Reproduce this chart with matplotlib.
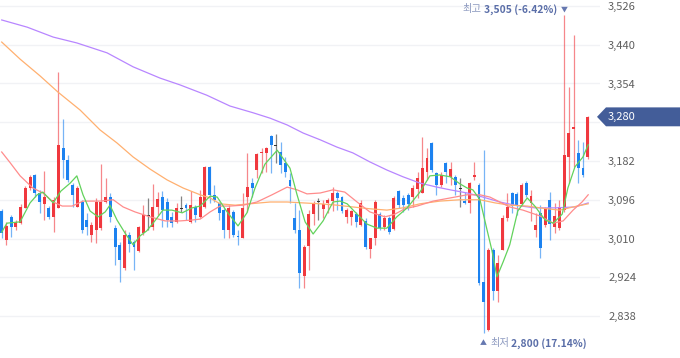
import numpy as np
import matplotlib
matplotlib.use("Agg")
import matplotlib.pyplot as plt
from matplotlib.patches import Polygon
from matplotlib.transforms import blended_transform_factory
from matplotlib.offsetbox import TextArea, HPacker, AnnotationBbox

FONT = ["Noto Sans CJK KR", "DejaVu Sans"]
plt.rcParams["font.family"] = FONT

# daily candles, oldest first
opens = [3071, 3007, 3058, 3036, 3044, 3078, 3122, 3151, 3111, 3087,
         3078, 3058, 3078, 3211, 3184, 3129, 3080, 3091, 3051, 3018,
         3029, 3033, 3091, 3102, 3033, 2996, 2945, 3018, 3002, 2982,
         3022, 3060, 3036, 3080, 3102, 3091, 3058, 3047, 3076, 3084,
         3047, 3080, 3058, 3080, 3169, 3107, 3089, 3073, 3029, 3069,
         3016, 3011, 3102, 3133, 3162, 3200, 3200, 3238, 3215, 3202,
         3178, 3140, 3056, 3029, 2927, 2993, 3064, 3091, 3076, 3089,
         3093, 3111, 3102, 3058, 3058, 3064, 3040, 3049, 2987, 3011,
         3064, 3036, 3056, 3031, 3115, 3100, 3107, 3102, 3120, 3111,
         3158, 3222, 3155, 3129, 3178, 3147, 3147, 3120, 3093, 3089,
         3147, 3129, 2914, 2807, 2985, 2894, 2985, 3056, 3111, 3109,
         3087, 3133, 3089, 3029, 3067, 3040, 3096, 3036, 3033, 3073,
         3191, 3253, 3200, 3166, 3191]
highs = [3076, 3047, 3062, 3051, 3087, 3127, 3151, 3153, 3118, 3160,
         3082, 3102, 3380, 3275, 3195, 3133, 3127, 3096, 3067, 3047,
         3100, 3175, 3144, 3111, 3040, 3002, 3029, 3024, 3007, 3038,
         3084, 3100, 3131, 3113, 3115, 3100, 3069, 3089, 3104, 3089,
         3115, 3084, 3118, 3171, 3171, 3129, 3091, 3078, 3084, 3073,
         3029, 3111, 3200, 3144, 3200, 3211, 3213, 3240, 3242, 3224,
         3191, 3155, 3089, 3073, 2996, 3073, 3093, 3100, 3096, 3100,
         3124, 3115, 3104, 3078, 3073, 3069, 3096, 3056, 3011, 3096,
         3069, 3062, 3060, 3104, 3118, 3107, 3111, 3129, 3158, 3235,
         3211, 3224, 3158, 3158, 3180, 3180, 3151, 3144, 3113, 3135,
         3180, 3133, 3206, 2989, 2989, 2974, 3062, 3111, 3113, 3113,
         3133, 3138, 3118, 3067, 3084, 3080, 3113, 3089, 3096, 3505,
         3346, 3462, 3229, 3224, 3282]
lows = [3011, 2996, 3013, 3029, 3042, 3078, 3118, 3102, 3067, 3051,
        3053, 3024, 3078, 3144, 3135, 3080, 3080, 3022, 3018, 3002,
        3000, 3029, 3089, 3047, 2951, 2914, 2940, 2980, 2940, 2980,
        3018, 3029, 3029, 3062, 3036, 3036, 3036, 3044, 3069, 3051,
        3044, 3047, 3056, 3078, 3089, 3091, 3051, 3011, 3011, 3013,
        2996, 3011, 3069, 3102, 3144, 3155, 3158, 3155, 3178, 3155,
        3147, 3089, 3022, 2900, 2900, 2940, 3040, 3051, 3056, 3067,
        3071, 3073, 3067, 3044, 3040, 3036, 3038, 2987, 2967, 2996,
        3029, 3029, 3020, 3029, 3078, 3069, 3073, 3080, 3100, 3111,
        3140, 3158, 3107, 3124, 3133, 3129, 3107, 3080, 3087, 3067,
        3140, 2907, 2800, 2805, 2874, 2869, 2985, 3049, 3067, 3062,
        3082, 3102, 3049, 3013, 2967, 3036, 3007, 3022, 3029, 3069,
        3133, 3169, 3133, 3147, 3186]
closes = [3022, 3038, 3036, 3047, 3080, 3122, 3147, 3111, 3091, 3102,
          3058, 3096, 3218, 3184, 3140, 3107, 3122, 3029, 3036, 3040,
          3091, 3091, 3102, 3058, 2991, 2962, 3018, 2998, 2991, 3036,
          3062, 3060, 3080, 3098, 3073, 3051, 3044, 3078, 3076, 3078,
          3084, 3062, 3102, 3169, 3107, 3096, 3067, 3029, 3078, 3018,
          3013, 3078, 3124, 3122, 3198, 3202, 3211, 3218, 3215, 3173,
          3158, 3127, 3029, 2934, 2991, 3064, 3089, 3091, 3087, 3096,
          3111, 3100, 3071, 3073, 3071, 3047, 3089, 2991, 3011, 3091,
          3033, 3056, 3024, 3100, 3084, 3084, 3087, 3122, 3144, 3166,
          3189, 3162, 3129, 3151, 3158, 3164, 3129, 3120, 3089, 3133,
          3151, 2911, 2869, 2985, 2894, 2956, 3056, 3080, 3082, 3084,
          3129, 3107, 3104, 3040, 2989, 3076, 3042, 3060, 3080, 3195,
          3244, 3257, 3166, 3151, 3280]

# moving averages (candle index, price)
ma5_idx = [0, 1.1, 3.9, 6.0, 7.5, 8.7, 10.9, 12.5, 14.5, 15.9, 17.2, 18.7,
           20.4, 21.9, 22.9, 24.4, 26.1, 27.8, 29.3, 30.7, 32.4, 34.1, 36.0,
           38.2, 40.3, 42.0, 44.1, 45.6, 47.7, 50.0, 51.9, 53.6, 55.7, 58.3,
           61.0, 62.5, 64.2, 65.9, 68.0, 70.1, 71.6, 73.1, 75.2, 77.3, 79.4,
           81.5, 83.6, 85.8, 88.5, 90.6, 92.7, 94.9, 97.0, 98.5, 99.7, 101.2,
           102.7, 103.7, 104.8, 106.1, 107.5, 109.2, 111.2, 112.8, 115.0,
           116.7, 118.6, 119.8, 121.3, 123.0, 124.1]
ma5_val = [3024, 3044, 3047, 3089, 3107, 3113, 3089, 3115, 3133, 3149, 3107,
           3071, 3058, 3069, 3084, 3051, 3022, 2996, 3016, 3027, 3049, 3073,
           3073, 3067, 3078, 3082, 3104, 3102, 3069, 3038, 3067, 3122, 3175,
           3206, 3166, 3107, 3047, 3020, 3049, 3091, 3093, 3087, 3064, 3042,
           3033, 3033, 3058, 3078, 3113, 3149, 3151, 3147, 3131, 3122, 3118,
           3096, 3029, 2985, 2925, 2958, 2996, 3071, 3100, 3082, 3051, 3044,
           3064, 3122, 3169, 3191, 3218]
ma20_idx = [0, 1.8, 3.9, 6.6, 8.7, 10.9, 12.8, 14.9, 17.2, 20.8, 23.6, 25.7,
            28.2, 31.4, 34.6, 37.7, 40.3, 42.0, 44.1, 46.2, 48.3, 51.1, 54.0,
            57.2, 60.4, 62.5, 64.6, 67.4, 70.1, 72.6, 75.2, 77.9, 81.1, 83.2,
            85.3, 87.9, 91.3, 94.9, 98.5, 101.2, 103.3, 105.4, 107.5, 110.3,
            113.9, 116.7, 118.8, 120.9, 122.8, 124.1]
ma20_val = [3202, 3178, 3149, 3122, 3111, 3091, 3082, 3082, 3093, 3093, 3096,
            3080, 3069, 3058, 3049, 3049, 3051, 3053, 3069, 3082, 3082, 3084,
            3091, 3107, 3124, 3118, 3109, 3111, 3118, 3113, 3091, 3069, 3058,
            3064, 3076, 3082, 3093, 3100, 3107, 3107, 3102, 3091, 3080, 3073,
            3060, 3044, 3049, 3073, 3091, 3107]
ma60_idx = [0, 3.9, 8.1, 11.9, 16.6, 20.8, 24.4, 27.8, 31.4, 35.0, 38.4,
            42.0, 44.1, 46.2, 49.4, 52.5, 56.8, 60.4, 63.8, 67.4, 70.9, 74.3,
            77.9, 81.5, 84.9, 88.5, 92.7, 97.0, 101.2, 104.4, 107.5, 111.2,
            115.4, 118.1, 120.9, 124.1]
ma60_val = [3446, 3408, 3371, 3335, 3295, 3251, 3222, 3191, 3164, 3140, 3122,
            3107, 3100, 3087, 3084, 3087, 3091, 3091, 3089, 3087, 3084, 3080,
            3076, 3073, 3078, 3087, 3093, 3096, 3096, 3089, 3084, 3082, 3076,
            3073, 3080, 3087]
ma120_idx = [0, 5.4, 10.9, 15.9, 22.3, 27.8, 33.5, 37.7, 43.4, 48.3, 53.2,
             56.8, 60.4, 63.8, 67.4, 70.9, 74.3, 77.9, 81.5, 84.9, 88.5, 92.1,
             94.9, 98.5, 101.8, 105.4, 108.6, 112.8, 117.1, 121.3, 124.1]
ma120_val = [3495, 3479, 3457, 3444, 3422, 3391, 3366, 3351, 3328, 3304, 3289,
             3277, 3262, 3244, 3229, 3213, 3200, 3180, 3162, 3147, 3133, 3124,
             3118, 3111, 3102, 3091, 3084, 3078, 3078, 3080, 3089]

price_ticks = [2838, 2924, 3010, 3096, 3182, 3268, 3354, 3440, 3526]

UP = "#F0383E"
DOWN = "#1C82F0"
FLAT = "#333333"


def main():
    o = np.array(opens)
    h = np.array(highs)
    l = np.array(lows)
    c = np.array(closes)
    x = np.arange(len(o))
    last = c[-1]

    colors = np.where(c > o, UP, np.where(c < o, DOWN, FLAT))

    fig = plt.figure(figsize=(6.8, 3.58), dpi=100)
    fig.patch.set_facecolor("white")
    ax = fig.add_axes([0, 0, 600 / 680, 1])
    ax.set_facecolor("white")

    # wicks then bodies
    ax.vlines(x, l, h, colors=colors, linewidth=0.9, alpha=0.6, zorder=2)
    body_h = np.maximum(np.abs(c - o), 1.8)
    ax.bar(x, body_h, bottom=np.minimum(o, c), width=0.62, color=colors,
           linewidth=0, zorder=2.5)

    # moving averages
    ax.plot(ma120_idx, ma120_val, color="#B886FF", lw=0.9, zorder=3)
    ax.plot(ma60_idx, ma60_val, color="#FFB070", lw=0.9, zorder=3)
    ax.plot(ma20_idx, ma20_val, color="#FF8C8C", lw=0.9, zorder=3)
    ax.plot(ma5_idx, ma5_val, color="#62D25C", lw=0.9, zorder=3)

    ax.set_xlim(-0.36, 126.6)
    ax.set_ylim(2744.8, 3539.3)
    ax.set_yticks(price_ticks)
    # the label under the current-price tag is hidden, as on the source chart
    ax.set_yticklabels(["" if abs(v - last) < 40 else f"{v:,}" for v in price_ticks])
    ax.yaxis.tick_right()
    ax.tick_params(axis="y", length=0, pad=5.8, labelsize=8, labelcolor="#5f5f5f")
    ax.set_xticks([])
    ax.grid(axis="y", color="#f1f2f5", linewidth=1)
    ax.set_axisbelow(True)
    for s in ax.spines.values():
        s.set_visible(False)

    # high / low markers
    hi_i = int(np.argmax(h))
    lo_i = int(np.argmin(l))
    hi, lo = h[hi_i], l[lo_i]
    hi_pct = (last - hi) / hi * 100
    lo_pct = (last - lo) / lo * 100

    light = dict(color="#8d9ac0", fontsize=7.4, family=FONT)
    bold = dict(color="#5a6ea8", fontsize=7.4, fontweight="bold", family=FONT)

    ax.annotate("▼", xy=(hi_i, hi), xytext=(0, 4.5), textcoords="offset points",
                ha="center", va="center", fontsize=5, color="#6678b0",
                family=FONT, annotation_clip=False)
    top_box = HPacker(children=[TextArea("최고", textprops=light),
                                TextArea(f"{hi:,} ({hi_pct:.2f}%)", textprops=bold)],
                      align="center", pad=0, sep=1.5)
    ab = AnnotationBbox(top_box, (hi_i, hi), xybox=(-5, 4.5),
                        boxcoords="offset points", box_alignment=(1, 0.5),
                        frameon=False, pad=0, annotation_clip=False)
    ax.add_artist(ab)

    ax.annotate("▲", xy=(lo_i, lo), xytext=(0, -7.3), textcoords="offset points",
                ha="center", va="center", fontsize=5, color="#6678b0",
                family=FONT, annotation_clip=False)
    bot_box = HPacker(children=[TextArea("최저", textprops=light),
                                TextArea(f"{lo:,} ({lo_pct:.2f}%)", textprops=bold)],
                      align="center", pad=0, sep=1.5)
    ab = AnnotationBbox(bot_box, (lo_i, lo), xybox=(4.5, -7.3),
                        boxcoords="offset points", box_alignment=(0, 0.5),
                        frameon=False, pad=0, annotation_clip=False)
    ax.add_artist(ab)

    # current price tag on the right axis
    tr = blended_transform_factory(fig.transFigure, ax.transData)
    half = 21
    tag = Polygon([(597 / 680, last), (606 / 680, last + half), (1, last + half),
                   (1, last - half), (606 / 680, last - half)],
                  closed=True, transform=tr, facecolor="#435d99",
                  edgecolor="none", zorder=5, clip_on=False)
    fig.add_artist(tag)
    fig.text(608 / 680, last, f"{last:,}", transform=tr, ha="left", va="center",
             color="white", fontsize=8, zorder=6)

    fig.savefig("out.png", dpi=100, facecolor="white")


if __name__ == "__main__":
    main()
